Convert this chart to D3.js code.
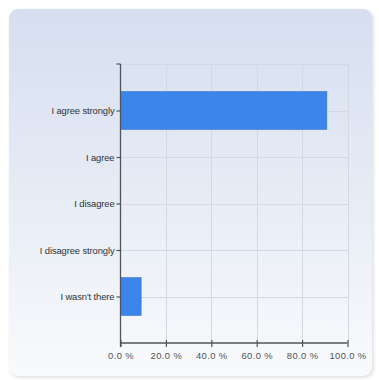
<!DOCTYPE html>
<html>
<head>
<meta charset="utf-8">
<script src="https://cdn.jsdelivr.net/npm/d3@7"></script>
<style>
  html, body { margin: 0; padding: 0; background: #ffffff; }
  svg { display: block; }
</style>
</head>
<body>
<svg id="chart" width="379" height="380"></svg>
<script>
// Survey answers and the share of respondents (%) for each
const categories = ["I agree strongly", "I agree", "I disagree", "I disagree strongly", "I wasn't there"];
const shares = [90.9, 0, 0, 0, 9.1];
const xTicks = [0, 20, 40, 60, 80, 100];

const svg = d3.select("#chart");
const defs = svg.append("defs");

const bg = defs.append("linearGradient")
  .attr("id", "panelFill").attr("x1", 0).attr("y1", 0).attr("x2", 0).attr("y2", 1);
bg.append("stop").attr("offset", "0%").attr("stop-color", "#d6def0");
bg.append("stop").attr("offset", "55%").attr("stop-color", "#e8edf6");
bg.append("stop").attr("offset", "100%").attr("stop-color", "#f9fafc");

const shadow = defs.append("filter").attr("id", "soft")
  .attr("x", "-5%").attr("y", "-5%").attr("width", "110%").attr("height", "110%");
shadow.append("feGaussianBlur").attr("stdDeviation", 1.6);

// Panel with a faint drop shadow
svg.append("rect")
  .attr("x", 10).attr("y", 10).attr("width", 364).attr("height", 368)
  .attr("rx", 9).attr("fill", "#c9ced6").attr("opacity", 0.55)
  .attr("filter", "url(#soft)");
svg.append("rect")
  .attr("x", 9).attr("y", 9).attr("width", 363).attr("height", 367)
  .attr("rx", 9).attr("fill", "url(#panelFill)");

const plot = { left: 120.5, right: 347.5, top: 64, bottom: 343 };

const x = d3.scaleLinear().domain([0, 100]).range([plot.left, plot.right]);
const y = d3.scalePoint().domain(categories).range([plot.top, plot.bottom]).padding(1);

const g = svg.append("g");

// Grid lines
g.append("g").selectAll("line.v").data(xTicks.slice(1)).join("line")
  .attr("x1", d => Math.round(x(d)) + 0.5).attr("x2", d => Math.round(x(d)) + 0.5)
  .attr("y1", plot.top).attr("y2", plot.bottom)
  .attr("stroke", "#d3d8e1").attr("stroke-width", 1);
g.append("g").selectAll("line.h").data([null, ...categories]).join("line")
  .attr("x1", plot.left).attr("x2", plot.right)
  .attr("y1", d => d === null ? plot.top + 0.5 : Math.round(y(d)) + 0.5)
  .attr("y2", d => d === null ? plot.top + 0.5 : Math.round(y(d)) + 0.5)
  .attr("stroke", "#d3d8e1").attr("stroke-width", 1);

// Bars
const barH = y.step() * 0.815;
g.append("g").selectAll("rect").data(categories.map((c, i) => ({ c, v: shares[i] })).filter(d => d.v > 0))
  .join("rect")
  .attr("x", x(0)).attr("y", d => y(d.c) - barH / 2)
  .attr("width", d => x(d.v) - x(0)).attr("height", barH)
  .attr("fill", "#3c85ea")
  .attr("stroke", "#3a74cc").attr("stroke-width", 0.6);

const axisColor = "#505459";
const font = "'Liberation Sans', Arial, sans-serif";

// Left axis
const yAxis = d3.axisLeft(y).tickSize(4).tickPadding(2);
const ya = g.append("g").attr("transform", `translate(${plot.left},0)`).call(yAxis);
ya.select(".domain").remove();
ya.append("line").attr("x1", 0).attr("x2", 0).attr("y1", plot.top).attr("y2", plot.bottom + 4)
  .attr("stroke", axisColor).attr("stroke-width", 1.3);
ya.append("line").attr("x1", -4).attr("x2", 0).attr("y1", plot.top).attr("y2", plot.top)
  .attr("stroke", axisColor).attr("stroke-width", 1.2);
ya.selectAll(".tick line").attr("stroke", axisColor).attr("stroke-width", 1.2);
ya.selectAll(".tick text").attr("fill", "#2e3236")
  .style("font-family", font).style("font-size", "9.4px").style("letter-spacing", "-0.1px");

// Bottom axis
const xAxis = d3.axisBottom(x).tickValues(xTicks).tickSize(4).tickPadding(5)
  .tickFormat(d => d3.format(".1f")(d) + " %");
const xa = g.append("g").attr("transform", `translate(0,${plot.bottom})`).call(xAxis);
xa.select(".domain").remove();
xa.append("line").attr("x1", plot.left).attr("x2", plot.right).attr("y1", 0).attr("y2", 0)
  .attr("stroke", axisColor).attr("stroke-width", 1.3);
xa.selectAll(".tick line").attr("y1", -3).attr("y2", 4)
  .attr("stroke", axisColor).attr("stroke-width", 1.2);
xa.selectAll(".tick text").attr("fill", "#4e5358")
  .style("font-family", font).style("font-size", "9.4px").style("letter-spacing", "0.4px");
</script>
</body>
</html>
